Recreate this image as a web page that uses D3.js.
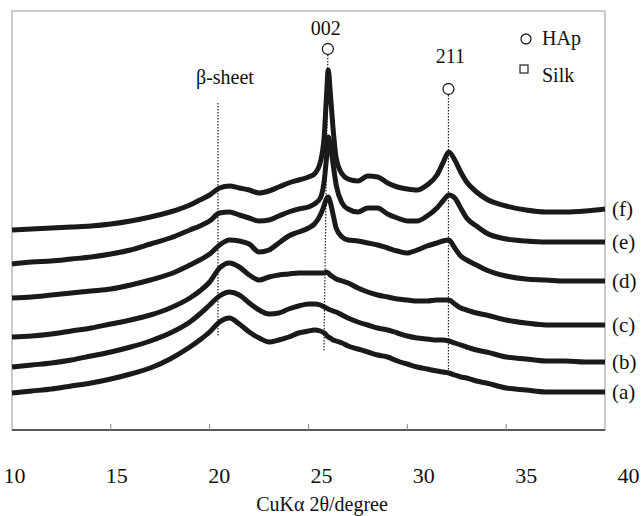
<!DOCTYPE html>
<html>
<head>
  <meta charset="utf-8">
  <title>XRD patterns</title>
  <style>
    body { margin: 0; background: #fff; }
    text { font-family: "Liberation Serif", "Times New Roman", serif; fill: #111; }
  </style>
</head>
<body>
<script src="https://cdn.jsdelivr.net/npm/d3@7"></script>
<svg id="chart" width="642" height="516"></svg>

<script>
    // 2theta grid (degree) shared by all patterns
    var angles = [10,11,12,13,14,15,16,17,18,19, 19.5,20,20.5,21,21.5,22,22.5,23,23.5,24,
                  24.5,25,25.3,25.6,25.8,25.9,26.0,26.1,26.25,26.4, 26.7,27,27.5,28,28.5,29,29.5,30,30.5,31,
                  31.5,31.8,32.1,32.4,32.7,33,33.5,34,35,36, 37,38,39,40];

    // intensities (a.u., stacked as drawn)
    var seriesA = [37,39,41,44,47,51,56,62,71,83, 90,98,108,112,106,98,92,88,90,93,
                   97,99,100,99,97,95,93,92,90,89, 87,84,81,78,75,73,69,66,63,61,
                   59,58,57,55,53,52,49,47,42,40, 38,38,38,38];
    var seriesB = [63,65,67,70,74,78,83,89,97,108, 116,125,134,138,135,127,120,116,117,121,
                   124,126,126,125,123,122,121,120,119,118, 115,112,108,105,102,100,97,94,92,91,
                   90,90,89,87,85,83,80,78,73,71, 69,69,68,68];
    var seriesC = [93,94,96,99,102,106,110,115,122,132, 139,148,162,167,163,155,150,153,155,156,
                   157,157,157,157,157,158,157,155,153,151, 149,147,142,138,135,133,131,130,129,129,
                   130,130,130,126,122,120,117,115,110,107, 105,105,105,105];
    var seriesD = [132,133,135,137,139,141,145,150,156,165, 170,176,185,190,189,186,178,180,187,194,
                   198,202,206,215,225,231,233,228,215,202, 193,190,189,187,185,182,179,177,180,184,
                   187,189,190,182,174,170,165,160,154,151, 150,149,149,149];
    var seriesE = [166,168,169,171,173,176,180,186,192,200, 204,209,217,218,215,212,209,210,214,218,
                   221,223,226,232,250,270,293,285,265,245, 227,221,218,222,222,216,212,209,209,214,
                   222,229,235,232,222,212,204,197,191,189, 188,188,188,188];
    var seriesF = [200,201,202,203,204,206,209,213,218,225, 230,235,242,244,242,240,237,239,243,247,
                   250,253,256,268,295,330,360,338,300,272, 256,251,249,254,253,247,243,241,240,245,
                   255,267,278,270,258,248,238,231,224,220, 218,218,219,221];

    var seriesNames = ["(a)", "(b)", "(c)", "(d)", "(e)", "(f)"];
    var allSeries = [seriesA, seriesB, seriesC, seriesD, seriesE, seriesF];

    var xTicks = [10, 15, 20, 25, 30, 35, 40];

    // annotations: peak positions (degree)
    var betaSheet = 20.42;
    var hap002 = 25.98;
    var hap211 = 32.08;

    var svg = d3.select("#chart");
    var plotL = 12, plotR = 605, plotT = 11, plotB = 430;

    var x = d3.scaleLinear().domain([10, 40]).range([plotL, plotR]);
    var y = d3.scaleLinear().domain([0, 419]).range([plotB, plotT]);
    // the printed tick labels sit on a slightly wider spacing than the plot box
    var xLab = d3.scaleLinear().domain([10, 40]).range([14, 628]);

    // frame
    svg.append("rect")
        .attr("x", plotL).attr("y", plotT)
        .attr("width", plotR - plotL).attr("height", plotB - plotT)
        .attr("fill", "none").attr("stroke", "#999").attr("stroke-width", 1);
    svg.append("line")
        .attr("x1", plotL).attr("x2", plotR).attr("y1", plotB).attr("y2", plotB)
        .attr("stroke", "#333").attr("stroke-width", 1.5);

    // little inner ticks
    svg.selectAll(".mtick").data(xTicks.slice(1, -1)).enter().append("line")
        .attr("x1", function(d) { return x(d); })
        .attr("x2", function(d) { return x(d); })
        .attr("y1", plotB).attr("y2", plotB - 6)
        .attr("stroke", "#888").attr("stroke-width", 1);

    // tick labels
    var axis = d3.axisBottom(xLab).tickValues(xTicks).tickSize(0).tickPadding(0);
    var gAxis = svg.append("g").attr("transform", "translate(0," + 467 + ")").call(axis);
    gAxis.select(".domain").remove();
    gAxis.selectAll("text")
        .style("font-family", "Liberation Serif")
        .style("font-size", "22px")
        .attr("fill", "#111");

    svg.append("text")
        .attr("x", 322).attr("y", 511)
        .attr("text-anchor", "middle")
        .style("font-size", "20px")
        .text("CuK\u03b1 2\u03b8/degree");

    // dotted marker lines
    var dotted = [
        {x1: betaSheet, x2: betaSheet, y1: 103, y2: 337},
        {x1: hap002, x2: hap002 - 0.2, y1: 55, y2: 352},
        {x1: hap211, x2: hap211, y1: 95, y2: 374}
    ];
    svg.selectAll(".dot").data(dotted).enter().append("line")
        .attr("x1", function(d) { return x(d.x1); })
        .attr("x2", function(d) { return x(d.x2); })
        .attr("y1", function(d) { return d.y1; })
        .attr("y2", function(d) { return d.y2; })
        .attr("stroke", "#222").attr("stroke-width", 1.2)
        .attr("stroke-dasharray", "1.5,1.5");

    // traces
    var line = d3.line()
        .x(function(d, i) { return x(angles[i]); })
        .y(function(d) { return y(d); })
        .curve(d3.curveMonotoneX);

    svg.selectAll(".trace").data(allSeries).enter().append("path")
        .attr("class", "trace")
        .attr("d", function(d) { return line(d); })
        .attr("fill", "none")
        .attr("stroke", "#1a1a1a")
        .attr("stroke-width", 5)
        .attr("stroke-linejoin", "round");

    // series labels at the right end
    svg.selectAll(".lab").data(allSeries).enter().append("text")
        .attr("x", 612)
        .attr("y", function(d, i) { return y(d[d.length - 1]) + 7; })
        .style("font-size", "21px")
        .text(function(d, i) { return seriesNames[i]; });

    // peak annotations
    svg.append("text").attr("x", x(betaSheet) + 7).attr("y", 84)
        .attr("text-anchor", "middle").style("font-size", "20px").text("\u03b2-sheet");
    svg.append("circle").attr("cx", x(hap002)).attr("cy", 49).attr("r", 5.5)
        .attr("fill", "#fff").attr("stroke", "#222").attr("stroke-width", 1.3);
    svg.append("text").attr("x", x(hap002) - 2).attr("y", 35)
        .attr("text-anchor", "middle").style("font-size", "20px").text("002");
    svg.append("circle").attr("cx", x(hap211)).attr("cy", 89).attr("r", 5.5)
        .attr("fill", "#fff").attr("stroke", "#222").attr("stroke-width", 1.3);
    svg.append("text").attr("x", x(hap211) + 2).attr("y", 63)
        .attr("text-anchor", "middle").style("font-size", "20px").text("211");

    // legend
    svg.append("circle").attr("cx", 526).attr("cy", 39).attr("r", 5)
        .attr("fill", "#fff").attr("stroke", "#222").attr("stroke-width", 1.3);
    svg.append("text").attr("x", 542).attr("y", 45).style("font-size", "20px").text("HAp");
    svg.append("rect").attr("x", 520).attr("y", 65).attr("width", 8).attr("height", 8)
        .attr("fill", "#fff").attr("stroke", "#222").attr("stroke-width", 1.2);
    svg.append("text").attr("x", 542).attr("y", 82).style("font-size", "20px").text("Silk");
</script>
</body>
</html>
